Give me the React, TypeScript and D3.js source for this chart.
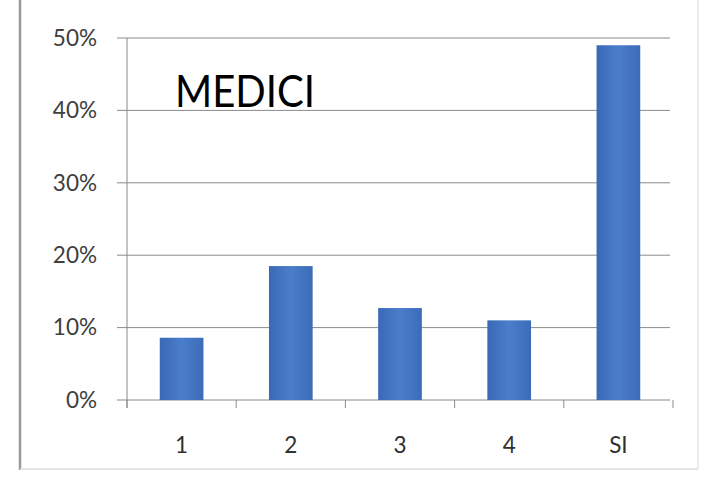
import React from "react";
import * as d3 from "d3";

const categories = ["1", "2", "3", "4", "SI"];
const values = [0.086, 0.185, 0.127, 0.11, 0.49];
const yTicks = [0, 0.1, 0.2, 0.3, 0.4, 0.5];
const title = "MEDICI";

const W = 709;
const H = 478;
const plot = { left: 127, right: 673, top: 38, bottom: 400 };

export default function App() {
  const x = d3
    .scaleBand<string>()
    .domain(categories)
    .range([plot.left, plot.right])
    .paddingInner(0.6)
    .paddingOuter(0.3);
  const y = d3.scaleLinear().domain([0, 0.5]).range([plot.bottom, plot.top]);
  const fmt = d3.format(".0%");
  const step = (plot.right - plot.left) / categories.length;
  const font = "Lato, 'Open Sans', sans-serif";

  return (
    <svg
      width={W}
      height={H}
      style={{ position: "absolute", left: 0, top: 0, background: "#fff" }}
    >
      <defs>
        <linearGradient id="barGrad" x1="0" x2="1" y1="0" y2="0">
          <stop offset="0" stopColor="#3a69b6" />
          <stop offset="0.5" stopColor="#4a7ecb" />
          <stop offset="1" stopColor="#3c6bb9" />
        </linearGradient>
      </defs>
      {/* outer frame */}
      <line x1={20} x2={20} y1={0} y2={470} stroke="#9a9a9a" strokeWidth={2.5} />
      <line x1={20} x2={698} y1={469} y2={469} stroke="#dcdcdc" strokeWidth={1.5} />
      <line x1={698} x2={698} y1={0} y2={469} stroke="#e6e6e6" strokeWidth={1.5} />

      {/* gridlines */}
      {yTicks.map((t) => (
        <g key={t}>
          <line
            x1={plot.left - 10}
            x2={plot.right - 3}
            y1={y(t)}
            y2={y(t)}
            stroke="#8a8a8a"
            strokeWidth={1}
          />
          <text
            x={97}
            y={y(t)}
            dy="0.35em"
            textAnchor="end"
            fontFamily={font}
            fontSize={22.5}
            fill="#404040"
          >
            {fmt(t)}
          </text>
        </g>
      ))}

      {/* y axis */}
      <line
        x1={plot.left}
        x2={plot.left}
        y1={plot.top}
        y2={plot.bottom + 8}
        stroke="#8a8a8a"
        strokeWidth={1}
      />

      {/* x axis ticks */}
      {d3.range(categories.length + 1).map((i) => (
        <line
          key={i}
          x1={plot.left + i * step}
          x2={plot.left + i * step}
          y1={plot.bottom}
          y2={plot.bottom + 8}
          stroke="#8a8a8a"
          strokeWidth={1}
        />
      ))}

      {/* bars */}
      {categories.map((c, i) => (
        <rect
          key={c}
          x={x(c)}
          y={y(values[i])}
          width={x.bandwidth()}
          height={plot.bottom - y(values[i])}
          fill="url(#barGrad)"
        />
      ))}

      {/* x labels */}
      {categories.map((c) => (
        <text
          key={c}
          x={(x(c) as number) + x.bandwidth() / 2}
          y={453}
          textAnchor="middle"
          fontFamily={font}
          fontSize={22.5}
          fill="#303030"
        >
          {c}
        </text>
      ))}

      <text
        x={175}
        y={107}
        fontFamily={font}
        fontSize={44}
        fill="#000"
        textLength={140}
        lengthAdjust="spacingAndGlyphs"
      >
        {title}
      </text>
    </svg>
  );
}
